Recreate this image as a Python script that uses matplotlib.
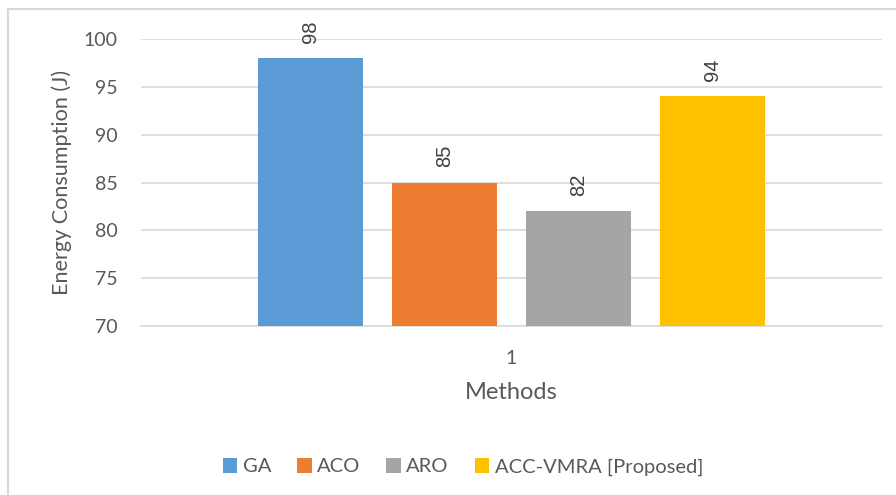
import matplotlib.pyplot as plt
from matplotlib.lines import Line2D

# data
methods = ['GA', 'ACO', 'ARO', 'ACC-VMRA [Proposed]']
energy = [98, 85, 82, 94]
colors = ['#5B9BD5', '#ED7D31', '#A5A5A5', '#FFC000']
yticks = [70, 75, 80, 85, 90, 95, 100]
group_label = '1'

txt = '#595959'
plt.rcParams['font.family'] = ['Lato', 'DejaVu Sans']

fig = plt.figure(figsize=(8.96, 4.95), dpi=100)
ax = fig.add_axes([141 / 896, 1 - 326 / 495, 741 / 896, 287 / 495])

n = len(methods)
pos = [i - (n - 1) / 2 for i in range(n)]
bars = ax.bar(pos, energy, width=0.79, color=colors, label=methods, zorder=3)

for x, v in zip(pos, energy):
    ax.annotate(str(v), (x, v), xytext=(0, 11), textcoords='offset points',
                rotation=90, ha='center', va='bottom', fontsize=14.5,
                color='#404040', family=['Liberation Sans'])

ax.set_xlim(-2.765, 2.765)
ax.set_ylim(70, 100)
ax.set_yticks(yticks)
ax.set_xticks([0])
ax.set_xticklabels([group_label])
ax.grid(axis='y', color='#D9D9D9', linewidth=1.2, zorder=0)
for s in ['top', 'right', 'left']:
    ax.spines[s].set_visible(False)
ax.spines['bottom'].set_color('#D9D9D9')
ax.spines['bottom'].set_linewidth(1.2)
ax.tick_params(axis='both', length=0, labelsize=14, colors=txt)
ax.tick_params(axis='y', pad=17)
ax.tick_params(axis='x', pad=17)

ax.set_ylabel('Energy Consumption (J)', fontsize=15.6, color=txt, labelpad=8)
ax.set_xlabel('Methods', fontsize=17, color=txt, labelpad=11)

ax.legend(bars, methods, loc='center', bbox_to_anchor=(0.4345, -0.491),
          ncol=4, frameon=False, fontsize=14.5, labelcolor=txt,
          handlelength=0.72, handleheight=0.72, handletextpad=0.26,
          columnspacing=1.3)

# outer chart border (left and top only visible)
fig.add_artist(Line2D([8 / 896, 8 / 896], [0, 1 - 9 / 495],
                      transform=fig.transFigure, color='#D9D9D9', lw=1.5))
fig.add_artist(Line2D([8 / 896, 1], [1 - 9 / 495, 1 - 9 / 495],
                      transform=fig.transFigure, color='#D9D9D9', lw=1.5))

fig.savefig('out.png', dpi=100)
